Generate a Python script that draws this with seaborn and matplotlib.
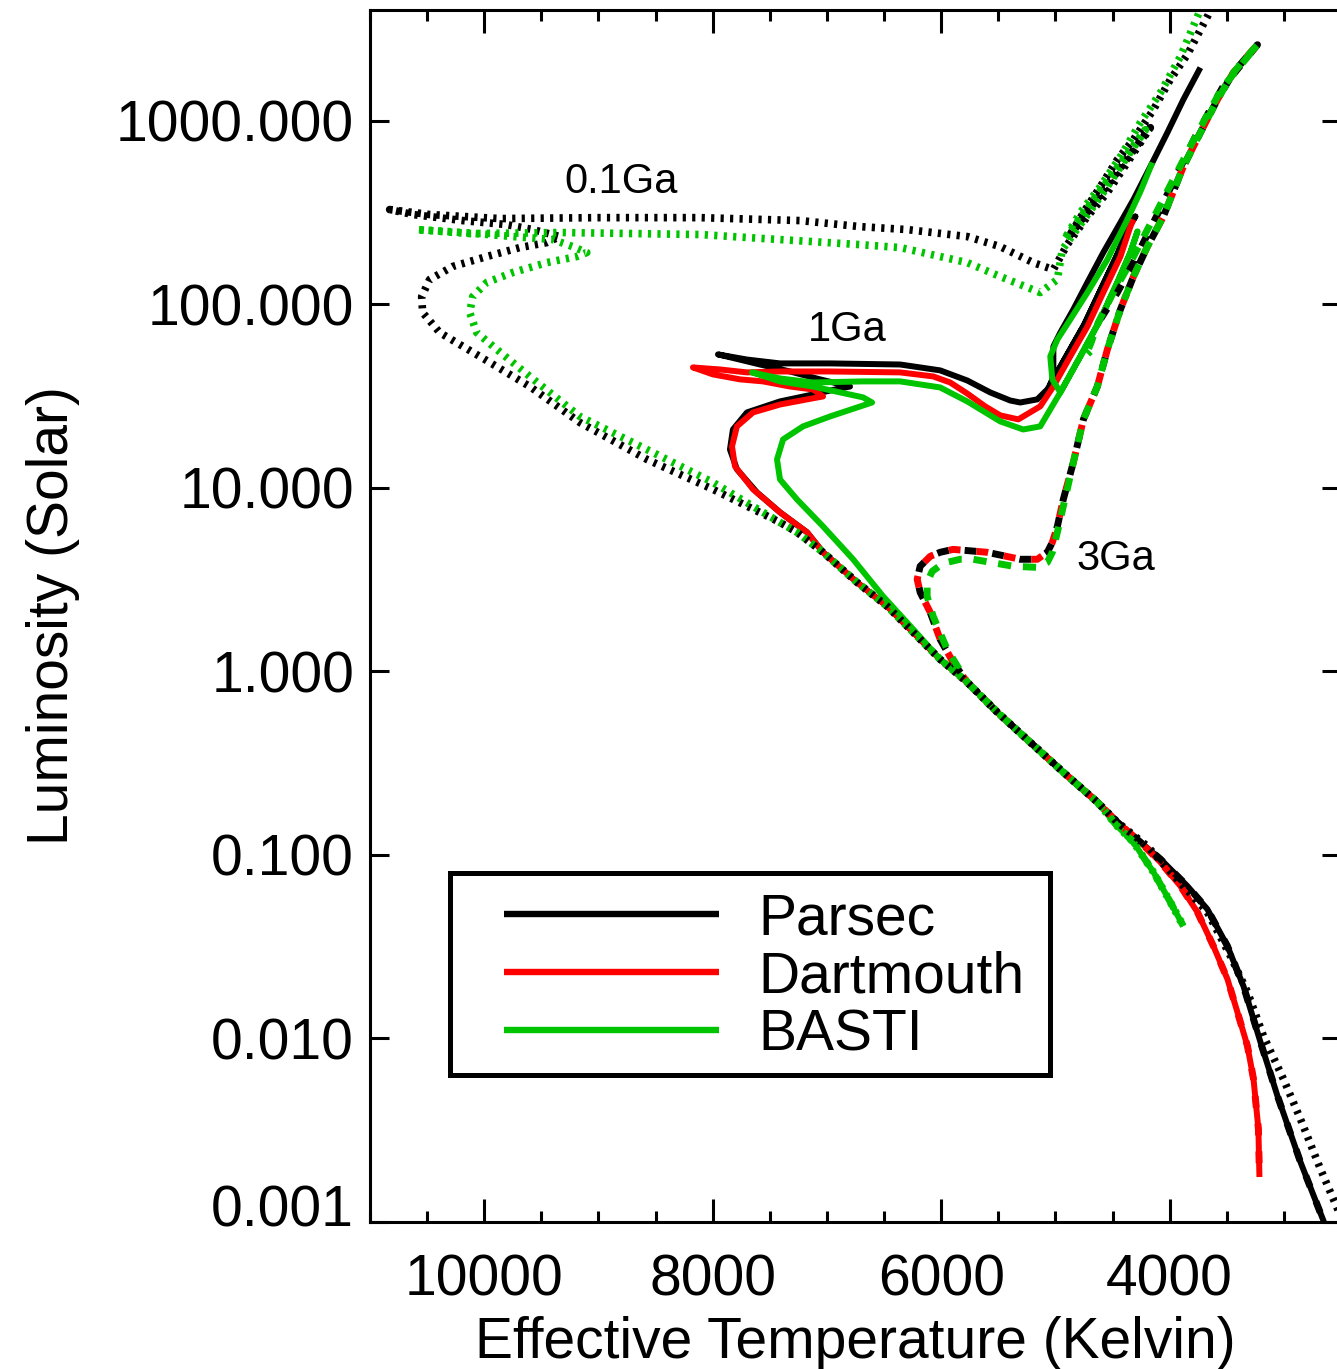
import numpy as np
import pandas as pd
import matplotlib
matplotlib.use("Agg")
import matplotlib.pyplot as plt
from matplotlib.lines import Line2D
from matplotlib.patches import Rectangle
from matplotlib.transforms import ScaledTranslation
from matplotlib.ticker import FixedLocator, MultipleLocator, NullLocator, FixedFormatter, FuncFormatter
import seaborn as sns

sns.set_theme(style="ticks")
plt.rcParams["font.family"] = ["Liberation Sans", "DejaVu Sans"]
for key in ["text.color", "axes.labelcolor", "xtick.color", "ytick.color", "axes.edgecolor"]:
    plt.rcParams[key] = "black"

# ---------------------------------------------------------------
# Isochrone tracks: effective temperature (K) and log10(L / Lsun)
# ---------------------------------------------------------------

# lower main sequence, common to every age of a given model set
parsec_lms_teff = [2609, 2653, 2855, 3056, 3205, 3354, 3494, 3670, 3845, 4081, 4256, 4458]
parsec_lms_logl = [-3.092, -2.994, -2.673, -2.314, -2.020, -1.715, -1.497, -1.296, -1.170, -1.023, -0.931, -0.822]
parsec_young_lms_teff = [2416, 2530, 2680, 2855, 3004, 3179, 3319, 3468, 3670, 3880, 4195, 4458]
parsec_young_lms_logl = [-3.092, -2.929, -2.711, -2.439, -2.221, -1.987, -1.747, -1.551, -1.312, -1.170, -0.953, -0.822]
dartmouth_lms_teff = [3214, 3223, 3266, 3319, 3407, 3494, 3617, 3757, 3906, 4081, 4256, 4458]
dartmouth_lms_logl = [-2.755, -2.493, -2.221, -2.041, -1.856, -1.677, -1.497, -1.312, -1.170, -1.040, -0.931, -0.822]
basti_lms_teff = [3880, 3994, 4142, 4317, 4458]
basti_lms_logl = [-1.388, -1.257, -1.094, -0.931, -0.844]

# upper main sequence
ms_teff = [4633, 4931, 5220, 5509, 5772]
ms_logl = [-0.713, -0.550, -0.387, -0.223, -0.060]
ms_hot_teff = [6009, 6245, 6473, 6736, 7034]
ms_hot_logl = [0.065, 0.212, 0.354, 0.484, 0.648]

# 3 Ga
to3_teff = [5895, 6009, 6096, 6184, 6210, 6184, 6096, 6009, 5895, 5597, 5308, 5159, 5071, 5027, 4983, 4931]
to3_logl = [0.049, 0.174, 0.321, 0.430, 0.501, 0.572, 0.626, 0.648, 0.664, 0.648, 0.610, 0.610, 0.648, 0.702, 0.789, 0.936]
basti_to3_teff = [5948, 6070, 6123, 6123, 6079, 5983, 5834, 5720, 5369, 5159, 5071, 5027, 4983]
basti_to3_logl = [0.120, 0.299, 0.408, 0.484, 0.544, 0.588, 0.610, 0.610, 0.572, 0.566, 0.593, 0.648, 0.757]
rgb3_teff = [4843, 4755, 4633, 4545, 4431, 4317, 4195, 4055, 3880, 3731, 3582, 3442, 3293, 3231]
rgb3_logl = [1.138, 1.372, 1.551, 1.753, 1.971, 2.150, 2.313, 2.477, 2.749, 2.934, 3.114, 3.261, 3.370, 3.413]
parsec_hb3_teff = [3538, 3775, 4064, 4317, 4458, 4607, 4668]
parsec_hb3_logl = [3.179, 2.912, 2.542, 2.226, 2.063, 1.916, 1.845]
basti_hb3_teff = [3538, 3775, 4081, 4344, 4493, 4625, 4694, 4738, 4694]
basti_hb3_logl = [3.179, 2.912, 2.542, 2.226, 2.063, 1.900, 1.780, 1.715, 1.742]

# 1 Ga
parsec_to1_teff = [7174, 7411, 7612, 7788, 7849, 7823, 7700, 7411, 7122, 6929, 6798,
                   7060, 7323, 7586, 7805, 7954]
parsec_to1_logl = [0.757, 0.866, 0.974, 1.100, 1.208, 1.317, 1.410, 1.470, 1.508, 1.535, 1.551,
                   1.590, 1.633, 1.671, 1.704, 1.726]
parsec_sgb1_teff = [7700, 7411, 6973, 6359, 6009, 5772, 5571, 5396, 5308, 5159, 5071]
parsec_sgb1_logl = [1.698, 1.677, 1.677, 1.671, 1.639, 1.584, 1.519, 1.475, 1.464, 1.481, 1.535]
parsec_rgb1_teff = [5045, 4896, 4747, 4607, 4458, 4362, 4300]
parsec_rgb1_logl = [1.562, 1.726, 1.889, 2.074, 2.270, 2.417, 2.477]
parsec_agb1_teff = [5018, 5018, 4957, 4843, 4720, 4581, 4431, 4317, 4169, 4020, 3880, 3731]
parsec_agb1_logl = [1.606, 1.769, 1.845, 1.971, 2.118, 2.281, 2.444, 2.569, 2.749, 2.934, 3.114, 3.288]

dartmouth_to1_teff = [7174, 7411, 7647, 7805, 7831, 7788, 7647, 7411, 7174, 7034,
                      7122, 7323, 7560, 7761, 7998, 8173]
dartmouth_to1_logl = [0.757, 0.866, 0.991, 1.116, 1.225, 1.334, 1.410, 1.453, 1.481, 1.497,
                      1.535, 1.551, 1.579, 1.590, 1.617, 1.655]
dartmouth_sgb1_teff = [7937, 7700, 7411, 6973, 6359, 6070, 5921, 5772, 5615, 5483, 5325, 5133]
dartmouth_sgb1_logl = [1.644, 1.628, 1.633, 1.633, 1.628, 1.606, 1.573, 1.513, 1.443, 1.394, 1.372, 1.443]
dartmouth_rgb1_teff = [5018, 4870, 4720, 4581, 4431, 4344, 4317]
dartmouth_rgb1_logl = [1.551, 1.715, 1.878, 2.063, 2.259, 2.422, 2.461]

basti_to1_teff = [6009, 6245, 6508, 6771, 7034, 7262, 7411, 7437, 7384, 7209, 6973, 6736, 6605,
                  6684, 6885, 7122, 7411, 7656]
basti_to1_logl = [0.065, 0.229, 0.408, 0.610, 0.789, 0.936, 1.045, 1.154, 1.263, 1.334, 1.388, 1.437, 1.464,
                  1.492, 1.519, 1.551, 1.579, 1.628]
basti_sgb1_teff = [7411, 7122, 6684, 6359, 6009, 5772, 5483, 5282, 5133]
basti_sgb1_logl = [1.595, 1.573, 1.579, 1.579, 1.546, 1.470, 1.361, 1.317, 1.334]
basti_rgb1_teff = [5133, 4957, 4782, 4607, 4458, 4344, 4282]
basti_rgb1_logl = [1.334, 1.519, 1.715, 1.916, 2.118, 2.281, 2.395]
basti_agb1_teff = [5027, 5045, 4983, 4870, 4720, 4545, 4370, 4256, 4151]
basti_agb1_logl = [1.590, 1.715, 1.807, 1.916, 2.063, 2.243, 2.461, 2.613, 2.771]

# 0.1 Ga
parsec_to01_teff = [7262, 7411, 7998, 8576, 9163, 9601, 10039, 10390, 10539, 10548, 10478,
                    10276, 9978, 9689, 9452, 9339, 9575, 9803, 10188, 10626, 10828]
parsec_to01_logl = [0.757, 0.811, 0.991, 1.154, 1.355, 1.551, 1.715, 1.845, 1.954, 2.041, 2.134,
                    2.205, 2.259, 2.308, 2.335, 2.368, 2.406, 2.433, 2.455, 2.488, 2.515]
parsec_gap01_teff = [10478, 9864, 8988, 8112, 7236, 6710, 6298, 5772, 5483, 5194, 5018]
parsec_gap01_logl = [2.488, 2.466, 2.471, 2.471, 2.455, 2.422, 2.406, 2.368, 2.313, 2.226, 2.188]
parsec_giant01_teff = [4896, 4720, 4545, 4370, 4169, 4887, 4738, 4607, 4458, 4317, 4142, 3994, 3845, 3670, 3599]
parsec_giant01_logl = [2.324, 2.477, 2.608, 2.771, 2.961, 2.363, 2.515, 2.640, 2.787, 2.896, 3.059, 3.223, 3.359, 3.566, 3.658]

basti_to01_teff = [7262, 7411, 7998, 8576, 9163, 9601, 9890, 10066, 10127, 10101, 9978,
                   9750, 9452, 9190, 9102, 9225, 9400, 9750, 10188, 10591]
basti_to01_logl = [0.757, 0.811, 1.029, 1.208, 1.388, 1.606, 1.753, 1.845, 1.954, 2.041, 2.118,
                   2.172, 2.226, 2.259, 2.281, 2.313, 2.352, 2.368, 2.390, 2.406]
basti_gap01_teff = [10127, 9339, 8112, 6710, 6359, 5772, 5483, 5133]
basti_gap01_logl = [2.384, 2.390, 2.379, 2.324, 2.308, 2.226, 2.150, 2.063]
basti_giant01_teff = [4983, 4940, 4738, 4563, 4388, 4212, 4922, 4782, 4607, 4431, 4256, 4081, 3906, 3731, 3687]
basti_giant01_logl = [2.134, 2.297, 2.471, 2.624, 2.787, 2.950, 2.352, 2.499, 2.640, 2.803, 2.989, 3.152, 3.348, 3.604, 3.658]

model_names = ["Parsec", "Dartmouth", "BASTI"]
model_colors = ["#000000", "#FF0000", "#00C400"]
age_labels = ["0.1Ga", "1Ga", "3Ga"]
age_label_teff = [8804, 6824, 4467]
age_label_lum = [405, 62.6, 3.55]
lum_ticks = [0.001, 0.01, 0.1, 1, 10, 100, 1000]
temp_ticks = [10000, 8000, 6000, 4000]

SOLID = "-"
DASHED = [(0.0, (1.7, 2.3)), (2.0, (1.7, 2.3)), (0.8, (1.9, 1.7))]
DOTTED = [(0.0, (0.42, 0.82)), (0.62, (0.42, 0.82))]


def join(*parts):
    return [v for p in parts for v in p]


tracks = [
    # (teff, logl, colour, linewidth, linestyle)
    (join(parsec_lms_teff, ms_teff, ms_hot_teff, parsec_to1_teff, parsec_sgb1_teff,
          parsec_rgb1_teff, parsec_rgb1_teff[-2::-1], parsec_agb1_teff),
     join(parsec_lms_logl, ms_logl, ms_hot_logl, parsec_to1_logl, parsec_sgb1_logl,
          parsec_rgb1_logl, parsec_rgb1_logl[-2::-1], parsec_agb1_logl),
     model_colors[0], 4.3, SOLID),
    (join(dartmouth_lms_teff, ms_teff, ms_hot_teff, dartmouth_to1_teff, dartmouth_sgb1_teff, dartmouth_rgb1_teff),
     join(dartmouth_lms_logl, ms_logl, ms_hot_logl, dartmouth_to1_logl, dartmouth_sgb1_logl, dartmouth_rgb1_logl),
     model_colors[1], 4.3, SOLID),
    (join(basti_lms_teff, ms_teff, basti_to1_teff, basti_sgb1_teff, basti_rgb1_teff,
          basti_rgb1_teff[-2:0:-1], basti_agb1_teff),
     join(basti_lms_logl, ms_logl, basti_to1_logl, basti_sgb1_logl, basti_rgb1_logl,
          basti_rgb1_logl[-2:0:-1], basti_agb1_logl),
     model_colors[2], 4.3, SOLID),
    (join(parsec_lms_teff, ms_teff, to3_teff, rgb3_teff, parsec_hb3_teff),
     join(parsec_lms_logl, ms_logl, to3_logl, rgb3_logl, parsec_hb3_logl),
     model_colors[0], 5.0, DASHED[0]),
    (join(dartmouth_lms_teff, ms_teff, to3_teff, rgb3_teff),
     join(dartmouth_lms_logl, ms_logl, to3_logl, rgb3_logl),
     model_colors[1], 5.0, DASHED[1]),
    (join(basti_lms_teff, ms_teff, basti_to3_teff, rgb3_teff, basti_hb3_teff),
     join(basti_lms_logl, ms_logl, basti_to3_logl, rgb3_logl, basti_hb3_logl),
     model_colors[2], 5.0, DASHED[2]),
    (join(parsec_young_lms_teff, ms_teff, ms_hot_teff, parsec_to01_teff, parsec_gap01_teff, parsec_giant01_teff),
     join(parsec_young_lms_logl, ms_logl, ms_hot_logl, parsec_to01_logl, parsec_gap01_logl, parsec_giant01_logl),
     model_colors[0], 5.5, DOTTED[0]),
    (join(basti_lms_teff, ms_teff, ms_hot_teff, basti_to01_teff, basti_gap01_teff, basti_giant01_teff),
     join(basti_lms_logl, ms_logl, ms_hot_logl, basti_to01_logl, basti_gap01_logl, basti_giant01_logl),
     model_colors[2], 5.5, DOTTED[1]),
]

fig = plt.figure(figsize=(13.37, 13.69), dpi=100)
ax = fig.add_axes([370 / 1337, 147 / 1369, 971 / 1337, 1212 / 1369])
ax.set_yscale("log")

for teff, logl, color, lw, ls in tracks:
    df = pd.DataFrame({"teff": teff, "lum": 10.0 ** np.asarray(logl)})
    sns.lineplot(data=df, x="teff", y="lum", sort=False, estimator=None, color=color,
                 lw=lw, linestyle=ls, solid_capstyle="butt", dash_capstyle="butt",
                 ax=ax, legend=False)

ax.set_xlim(11000, 2500)
ax.set_ylim(1e-3, 4.0e3)

# ticks
ax.xaxis.set_major_locator(FixedLocator(temp_ticks))
ax.xaxis.set_minor_locator(MultipleLocator(500))
ax.xaxis.set_major_formatter(FuncFormatter(lambda v, p: f"{v:.0f}"))
ax.yaxis.set_major_locator(FixedLocator(lum_ticks))
ax.yaxis.set_minor_locator(NullLocator())
ax.yaxis.set_major_formatter(FixedFormatter([f"{v:.3f}" for v in lum_ticks]))

ax.tick_params(axis="x", which="major", direction="in", length=16.5, width=2.2,
               top=True, bottom=True, labelsize=41, pad=22.5, colors="black")
ax.tick_params(axis="x", which="minor", direction="in", length=8, width=2.2,
               top=True, bottom=True)
ax.tick_params(axis="y", which="major", direction="in", length=13.5, width=2.2,
               left=True, right=True, labelsize=41, pad=11.5, colors="black")
for sp in ax.spines.values():
    sp.set_linewidth(2.2)
    sp.set_color("black")

ax.set_xlabel("Effective Temperature (Kelvin)", fontsize=41, color="black")
ax.set_ylabel("Luminosity (Solar)", fontsize=41, color="black")
ax.xaxis.set_label_coords(0.5, -0.0776)
ax.yaxis.set_label_coords(-0.2987, 0.5)

# the lowest luminosity label sits a little above its tick
low_lbl = ax.yaxis.get_major_ticks()[0].label1
low_lbl.set_transform(low_lbl.get_transform() + ScaledTranslation(0, 12 / 72, fig.dpi_scale_trans))

# age annotations
for lab, t, l in zip(age_labels, age_label_teff, age_label_lum):
    ax.text(t, l, lab, fontsize=30, ha="center", va="baseline", color="black")

# legend
ax.add_patch(Rectangle((0.0824, 0.1213), 0.6179, 0.1667, transform=ax.transAxes,
                       facecolor="white", edgecolor="black", lw=3.6, zorder=5))
handles = [Line2D([], [], color=c, lw=4.6, solid_capstyle="butt") for c in model_colors]
leg = ax.legend(handles, model_names, loc="upper left", bbox_to_anchor=(0.138, 0.2722),
                frameon=False, fontsize=41, handlelength=3.77, handletextpad=0.7,
                labelspacing=0.07, borderpad=0, borderaxespad=0, labelcolor="black")
leg.set_zorder(6)

fig.savefig("out.png", dpi=100)
